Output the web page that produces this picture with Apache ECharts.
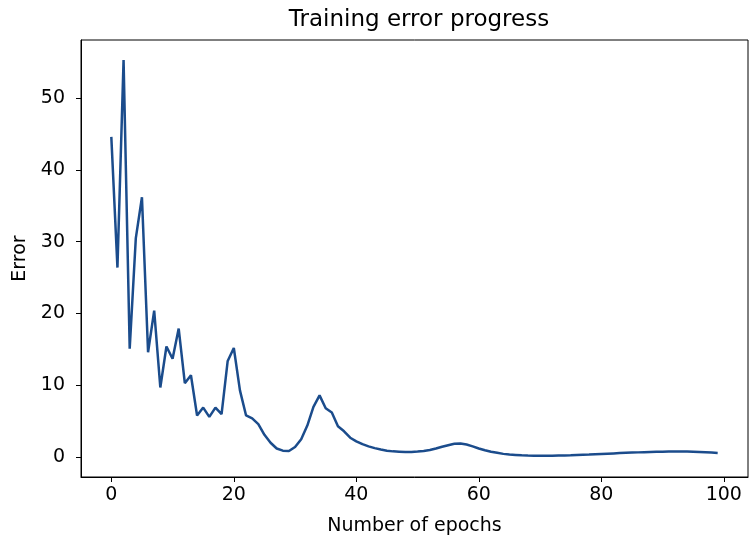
<!DOCTYPE html>
<html>
<head>
<meta charset="utf-8">
<script src="https://cdn.jsdelivr.net/npm/echarts@6/dist/echarts.min.js"></script>
<style>html,body{margin:0;padding:0;background:#fff}#c{width:750px;height:544px}</style>
</head>
<body>
<div id="c"></div>
<script>
const epochs = Array.from({length: 100}, (_, i) => i);
const errorValues = [
  44.6, 26.4, 55.3, 15.1, 30.5, 36.2, 14.6, 20.4, 9.7, 15.4,
  13.7, 17.9, 10.3, 11.4, 5.8, 6.9, 5.6, 6.9, 6.0, 13.4,
  15.2, 9.3, 5.8, 5.4, 4.6, 3.1, 2.0, 1.2, 0.9, 0.85,
  1.4, 2.5, 4.4, 7.0, 8.6, 6.8, 6.2, 4.3, 3.6, 2.7,
  2.2, 1.8, 1.5, 1.25, 1.05, 0.9, 0.8, 0.75, 0.7, 0.72,
  0.78, 0.85, 1.0, 1.2, 1.45, 1.65, 1.85, 1.9, 1.75, 1.5,
  1.2, 0.95, 0.75, 0.6, 0.45, 0.35, 0.3, 0.25, 0.22, 0.2,
  0.2, 0.2, 0.2, 0.22, 0.24, 0.26, 0.3, 0.33, 0.36, 0.4,
  0.44, 0.48, 0.52, 0.56, 0.6, 0.63, 0.66, 0.69, 0.72, 0.74,
  0.76, 0.77, 0.78, 0.78, 0.77, 0.75, 0.72, 0.68, 0.63, 0.58
];
const xTicks = [0, 20, 40, 60, 80, 100];
const yTicks = [0, 10, 20, 30, 40, 50];
const titleText = 'Training error progress';
const xName = 'Number of epochs';
const yName = 'Error';

const font = 'DejaVu Sans';
const chart = echarts.init(document.getElementById('c'));
chart.setOption({
  animation: false,
  backgroundColor: '#fff',
  title: {
    text: titleText, left: 414, top: 4, textAlign: 'center',
    textStyle: {fontFamily: font, fontSize: 23, fontWeight: 'normal', color: '#000'}
  },
  grid: {left: 81, right: 2, top: 40, bottom: 67, show: true, borderColor: '#000', borderWidth: 1},
  xAxis: {
    type: 'value', min: -4.95, max: 103.95,
    name: xName, nameLocation: 'middle', nameGap: 40,
    nameTextStyle: {fontFamily: font, fontSize: 19, color: '#000'},
    axisLine: {show: true, onZero: false, lineStyle: {color: '#000', width: 1}},
    axisTick: {show: true, inside: false, length: 5, customValues: xTicks, lineStyle: {color: '#000'}},
    axisLabel: {customValues: xTicks, fontFamily: font, fontSize: 19, color: '#000', margin: 9},
    splitLine: {show: false}
  },
  yAxis: {
    type: 'value', min: -2.77, max: 58.1,
    name: yName, nameLocation: 'middle', nameGap: 50, nameRotate: 90,
    nameTextStyle: {fontFamily: font, fontSize: 19, color: '#000'},
    axisLine: {show: true, onZero: false, lineStyle: {color: '#000', width: 1}},
    axisTick: {show: true, inside: false, length: 5, customValues: yTicks, lineStyle: {color: '#000'}},
    axisLabel: {customValues: yTicks, fontFamily: font, fontSize: 19, color: '#000', margin: 16},
    splitLine: {show: false}
  },
  series: [{
    type: 'line',
    data: epochs.map((e, i) => [e, errorValues[i]]),
    showSymbol: false,
    lineStyle: {color: '#1b4c8c', width: 2.5},
    itemStyle: {color: '#1b4c8c'}
  }]
});
</script>
</body>
</html>
